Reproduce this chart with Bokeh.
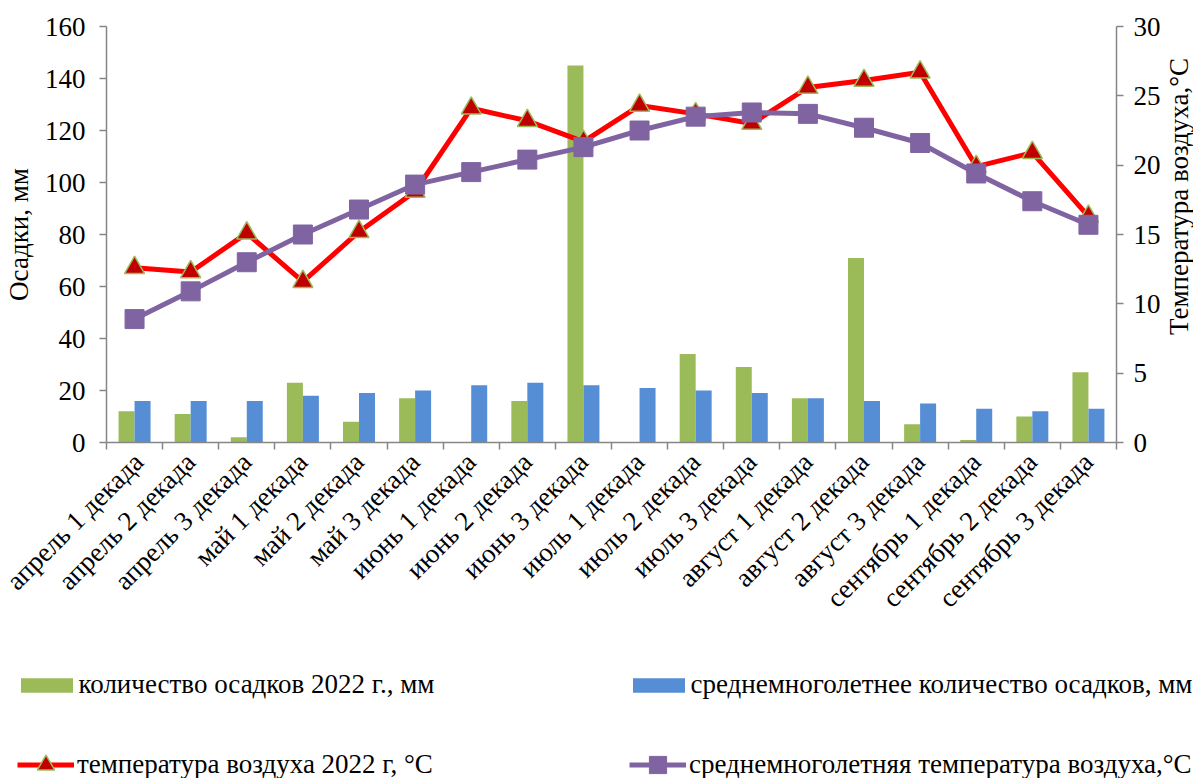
import numpy as np
from math import pi
from bokeh.plotting import figure
from bokeh.layouts import column, row
from bokeh.models import (Range1d, LinearAxis, FixedTicker, Legend, LegendItem,
                          ColumnDataSource, Label)
from bokeh.embed import file_html
from bokeh.resources import INLINE

categories = ["апрель 1 декада", "апрель 2 декада", "апрель 3 декада",
              "май 1 декада", "май 2 декада", "май 3 декада",
              "июнь 1 декада", "июнь 2 декада", "июнь 3 декада",
              "июль 1 декада", "июль 2 декада", "июль 3 декада",
              "август 1 декада", "август 2 декада", "август 3 декада",
              "сентябрь 1 декада", "сентябрь 2 декада", "сентябрь 3 декада"]
precip_2022 = [12, 11, 2, 23, 8, 17, 0, 16, 145, 0, 34, 29, 17, 71, 7, 1, 10, 27]
precip_mean = [16, 16, 16, 18, 19, 20, 22, 23, 22, 21, 20, 19, 17, 16, 15, 13, 12, 13]
temp_2022 = [12.6, 12.3, 15.1, 11.6, 15.2, 18.1, 24.1, 23.2, 21.7, 24.3, 23.7, 23.0,
             25.6, 26.1, 26.7, 19.9, 20.9, 16.3]
temp_mean = [8.9, 10.9, 13.0, 15.0, 16.8, 18.6, 19.5, 20.4, 21.3, 22.5, 23.5, 23.8,
             23.7, 22.7, 21.6, 19.4, 17.4, 15.7]
left_ticks = [0, 20, 40, 60, 80, 100, 120, 140, 160]
right_ticks = [0, 5, 10, 15, 20, 25, 30]

left_title = "Осадки, мм"
right_title = "Температура воздуха,°C"
labels = ["количество осадков 2022 г., мм",
          "среднемноголетнее количество осадков, мм",
          "температура воздуха 2022 г, °C",
          "среднемноголетняя температура воздуха,°C"]

FONT = "Liberation Serif"
FS = "27px"
GREY = "#868686"
GREEN, BLUE, RED, DRED, PURPLE = "#9BBB59", "#558ED5", "#FF0000", "#C00000", "#8064A2"

W, H_CHART, H_LEG = 1193, 636, 142
W_TITLE = 30

n = len(categories)
x = np.arange(n) + 0.5
bw = 0.285
src = ColumnDataSource(dict(x=x, xg=x - bw / 2, xb=x + bw / 2,
                            p22=precip_2022, pm=precip_mean,
                            t22=temp_2022, tm=temp_mean))


def add_series(fig, yname=None):
    kw = {} if yname is None else dict(y_range_name=yname)
    g = fig.vbar(x="xg", top="p22", width=bw, source=src, fill_color=GREEN, line_color=None)
    b = fig.vbar(x="xb", top="pm", width=bw, source=src, fill_color=BLUE, line_color=None)
    rl = fig.line("x", "t22", source=src, line_color=RED, line_width=5, **kw)
    rs = fig.scatter("x", "t22", source=src, marker="triangle", size=20,
                     fill_color=DRED, line_color=GREEN, line_width=1.5, **kw)
    pl = fig.line("x", "tm", source=src, line_color=PURPLE, line_width=5, **kw)
    ps = fig.scatter("x", "tm", source=src, marker="square", size=19,
                     fill_color=PURPLE, line_color=PURPLE, line_width=1, **kw)
    return g, b, rl, rs, pl, ps


def style_vaxis(ax, standoff):
    ax.major_label_text_font = FONT
    ax.major_label_text_font_size = FS
    ax.major_label_text_color = "black"
    ax.major_label_standoff = standoff
    ax.major_tick_out = 7
    ax.major_tick_in = 0
    ax.minor_tick_out = 0
    ax.minor_tick_in = 0
    ax.major_tick_line_color = GREY
    ax.major_tick_line_width = 1.5
    ax.axis_line_color = GREY
    ax.axis_line_width = 1.5


def bare(fig):
    fig.xgrid.visible = False
    fig.ygrid.visible = False
    fig.outline_line_color = None
    if hasattr(fig, "frame_align"):
        fig.frame_align = False


# ---------------- main chart ----------------
p = figure(width=W - W_TITLE, height=H_CHART, output_backend="svg", toolbar_location=None,
           x_range=Range1d(0, n), y_range=Range1d(left_ticks[0], left_ticks[-1]),
           min_border_left=106, min_border_right=44, min_border_top=26,
           min_border_bottom=194)
p.extra_y_ranges = {"temp": Range1d(right_ticks[0], right_ticks[-1])}
bare(p)
add_series(p, "temp")

xa = p.xaxis[0]
xa.ticker = FixedTicker(ticks=list(x), minor_ticks=list(range(n + 1)))
xa.major_label_overrides = {float(xi): c for xi, c in zip(x, categories)}
xa.major_tick_out = 0
xa.major_tick_in = 0
xa.minor_tick_out = 7
xa.minor_tick_in = 0
xa.minor_tick_line_color = GREY
xa.minor_tick_line_width = 1.5
xa.axis_line_color = GREY
xa.axis_line_width = 1.5
xa.major_label_orientation = pi / 4
xa.major_label_text_font = FONT
xa.major_label_text_font_size = FS
xa.major_label_text_color = "black"
xa.major_label_standoff = 8

ya = p.yaxis[0]
ya.ticker = FixedTicker(ticks=left_ticks)
style_vaxis(ya, 14)
ya.axis_label = left_title
ya.axis_label_text_font = FONT
ya.axis_label_text_font_size = FS
ya.axis_label_text_font_style = "normal"
ya.axis_label_text_color = "black"
ya.axis_label_standoff = 8

ra = LinearAxis(y_range_name="temp", ticker=FixedTicker(ticks=right_ticks))
style_vaxis(ra, 10)
p.add_layout(ra, "right")

# ---------------- right-hand title strip ----------------
r = figure(width=W_TITLE, height=H_CHART, output_backend="svg", toolbar_location=None,
           x_range=Range1d(0, W_TITLE), y_range=Range1d(0, H_CHART),
           x_axis_type=None, y_axis_type=None, min_border=0,
           min_border_left=0, min_border_right=0, min_border_top=0, min_border_bottom=0)
bare(r)
r.add_layout(Label(x=W_TITLE / 2, y=H_CHART - 196, text=right_title, angle=pi / 2,
                   text_align="center", text_baseline="middle", text_font=FONT,
                   text_font_size=FS, text_color="black"))

# ---------------- legend strip ----------------
q = figure(width=W, height=H_LEG, output_backend="svg", toolbar_location=None,
           x_range=Range1d(-10, -9), y_range=Range1d(-2, -1),
           x_axis_type=None, y_axis_type=None, min_border=0,
           min_border_left=0, min_border_right=0, min_border_top=0, min_border_bottom=0)
bare(q)
g, b, rl, rs, pl, ps = add_series(q)

common = dict(orientation="horizontal", spacing=0, padding=0, margin=0,
              border_line_color=None, background_fill_alpha=0,
              label_text_font=FONT, label_text_font_size=FS, label_text_color="black")
leg1 = Legend(items=[LegendItem(label=labels[0], renderers=[g]),
                     LegendItem(label=labels[1], renderers=[b])],
              location=(13.5, 78), glyph_width=65, glyph_height=18,
              label_height=18, label_standoff=0, label_width=547, **common)
leg2 = Legend(items=[LegendItem(label=labels[2], renderers=[rl, rs]),
                     LegendItem(label=labels[3], renderers=[pl, ps])],
              location=(17, -7.5), glyph_width=57, glyph_height=43,
              label_height=43, label_standoff=3, label_width=552, **common)
q.add_layout(leg1, "center")
q.add_layout(leg2, "center")

layout = column(row(p, r, spacing=0), q, spacing=0)
open("out.html", "w").write(file_html(layout, INLINE))
